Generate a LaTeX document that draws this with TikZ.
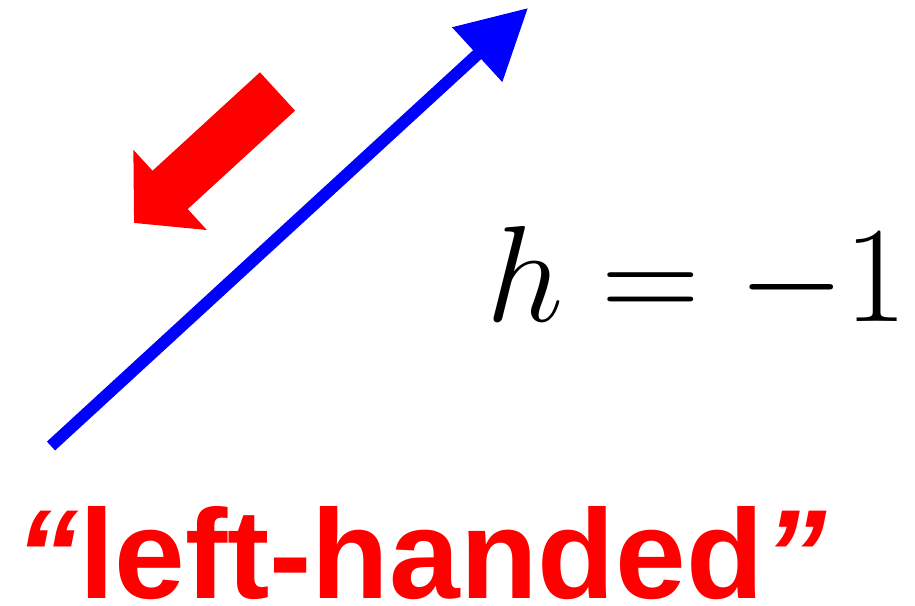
\documentclass[tikz,border=0pt]{standalone}
\usepackage{fontspec}
\newfontfamily\labelfont{Liberation Sans}
\usetikzlibrary{arrows.meta}
\definecolor{myblue}{RGB}{0,0,255}
\definecolor{myred}{RGB}{255,0,0}
\tikzset{
  momentum/.style={draw=myblue, line width=12pt, line cap=butt,
    -{Triangle[length=69pt,width=71pt]}},
  spin/.style={draw=myred, line width=52pt, line cap=butt,
    -{Triangle[length=49pt,width=106pt]}},
  eqlabel/.style={inner sep=0pt, anchor=base west, scale=5.5064,
    font=\fontsize{24.88}{30}\selectfont},
  handlabel/.style={inner sep=0pt, anchor=base west, text=myred,
    font=\labelfont\bfseries\fontsize{127}{127}\selectfont}
}
\begin{document}
\begin{tikzpicture}[x=1pt,y=-1pt]
\useasboundingbox (0,0) rectangle (915,605);
\coordinate (ptail) at (51,446);
\coordinate (ptip) at (528,8);
\coordinate (stail) at (277.5,91.5);
\coordinate (stip) at (134,223);
\draw[momentum] (ptail) -- (ptip);
\draw[spin] (stail) -- (stip);
\node[eqlabel] (eq) at (485,321) {$h=-1$};
\node[handlabel] (hand) at (15.5,598) {{\itshape “}left-handed{\itshape ”}};
\end{tikzpicture}
\end{document}
